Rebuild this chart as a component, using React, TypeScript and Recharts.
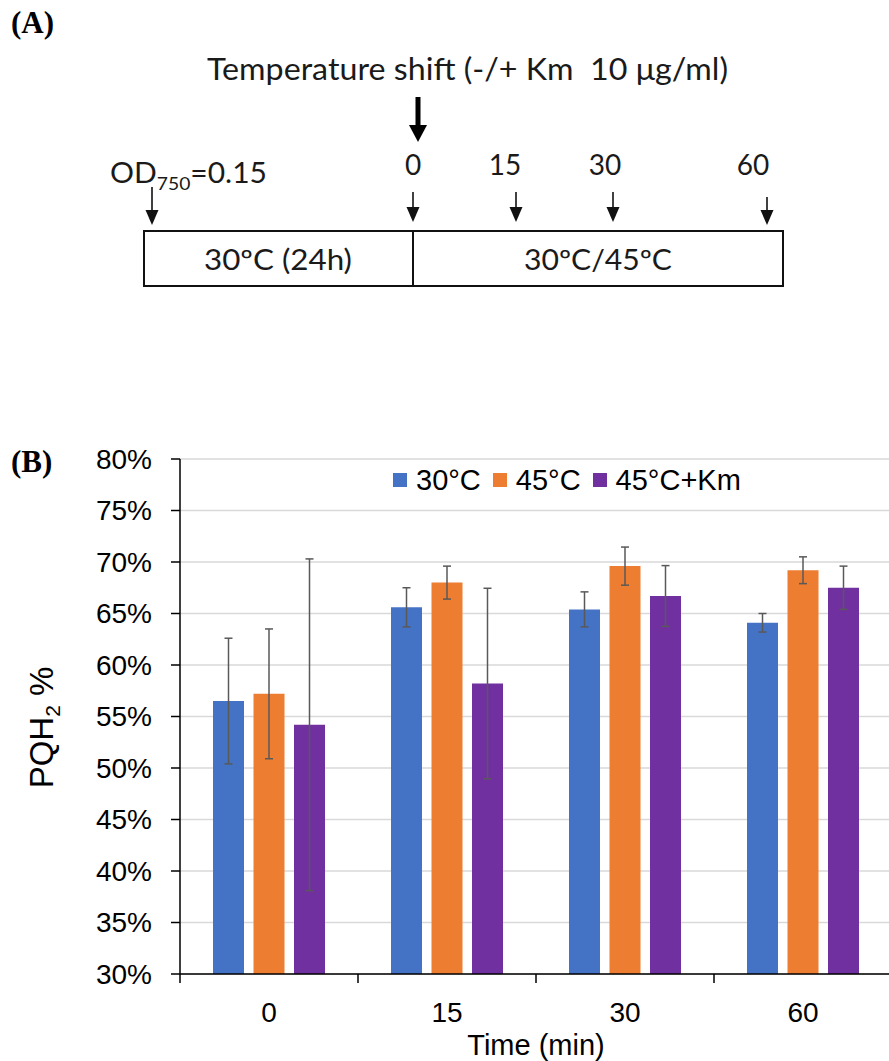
import { Bar, BarChart, CartesianGrid, ErrorBar, Legend, XAxis, YAxis } from "recharts";

const times = ["0", "15", "30", "60"];
const pqh30 = [56.5, 65.6, 65.4, 64.1];
const pqh30Err = [6.1, 1.9, 1.7, 0.9];
const pqh45 = [57.2, 68.0, 69.6, 69.2];
const pqh45Err = [6.3, 1.6, 1.85, 1.3];
const pqh45Km = [54.2, 58.2, 66.7, 67.5];
const pqh45KmErr = [16.1, 9.25, 2.95, 2.1];
const yTicks = [30, 35, 40, 45, 50, 55, 60, 65, 70, 75, 80];

const rows = times.map((t, i) => ({
  time: t,
  c30: pqh30[i],
  c30Err: pqh30Err[i],
  c45: pqh45[i],
  c45Err: pqh45Err[i],
  c45Km: pqh45Km[i],
  c45KmErr: pqh45KmErr[i],
}));

const ARIAL = "'Liberation Sans', Arial, sans-serif";
const SERIF = "'Liberation Serif', 'Times New Roman', serif";
const CALIBRI = "Lato, 'Open Sans', sans-serif";

const X_TICK_SIZE = 9;
const X_TICK_MARGIN = 19;

// category label in the middle, small tick marks on the band edges (Excel style)
function TimeTick(props: any) {
  const { x, y, payload, index, visibleTicksCount, width } = props;
  const half = payload.offset ?? width / visibleTicksCount / 2;
  const axisY = y - X_TICK_SIZE - X_TICK_MARGIN;
  const last = index === visibleTicksCount - 1;
  return (
    <g>
      <line x1={x - half} x2={x - half} y1={axisY} y2={axisY + X_TICK_SIZE} stroke="#000" strokeWidth={1.5} />
      {last && (
        <line x1={x + half} x2={x + half} y1={axisY} y2={axisY + X_TICK_SIZE} stroke="#000" strokeWidth={1.5} />
      )}
      <text x={x} y={y} dy="0.71em" textAnchor="middle" fontSize={28} fontFamily={ARIAL} fill="#000">
        {payload.value}
      </text>
    </g>
  );
}

function PqhLabel(props: any) {
  const vb = props.viewBox;
  const cx = vb.x - 47;
  const cy = vb.y + vb.height / 2 + 11;
  return (
    <text
      x={cx}
      y={cy}
      transform={`rotate(-90, ${cx}, ${cy})`}
      textAnchor="middle"
      fontSize={33}
      fontFamily={ARIAL}
      fill="#000"
    >
      PQH<tspan fontSize={21} dy={7}>2</tspan>
      <tspan dy={-7}> %</tspan>
    </text>
  );
}

function SeriesLegend({ payload }: any) {
  return (
    <div style={{ display: "flex", alignItems: "center", height: 30, fontFamily: ARIAL, fontSize: 29, color: "#000" }}>
      {(payload || []).map((p: any) => (
        <div key={p.value} style={{ display: "flex", alignItems: "center", marginRight: 12 }}>
          <span style={{ display: "inline-block", width: 14, height: 14, background: p.color, marginRight: 9 }} />
          <span style={{ lineHeight: "30px", whiteSpace: "nowrap" }}>{p.value}</span>
        </div>
      ))}
    </div>
  );
}

function Arrow({ x, y1, y2 }: { x: number; y1: number; y2: number }) {
  return (
    <g>
      <line x1={x} x2={x} y1={y1} y2={y2 - 12} stroke="#111" strokeWidth={1.6} />
      <polygon points={`${x - 6.5},${y2 - 15} ${x + 6.5},${y2 - 15} ${x},${y2}`} fill="#111" />
    </g>
  );
}

function Timeline() {
  const labelX = [413, 505, 605, 753];
  const arrows = [
    { x: 152, y1: 187, y2: 225 },
    { x: 413, y1: 192, y2: 222 },
    { x: 516, y1: 192, y2: 222 },
    { x: 613, y1: 192, y2: 222 },
    { x: 767, y1: 197, y2: 225 },
  ];
  return (
    <svg width={889} height={1061} style={{ position: "absolute", left: 0, top: 0, pointerEvents: "none" }}>
      <text x={11} y={33} fontFamily={SERIF} fontWeight="bold" fontSize={31} fill="#000">
        (A)
      </text>
      <text x={11} y={472} fontFamily={SERIF} fontWeight="bold" fontSize={31} fill="#000">
        (B)
      </text>

      <text
        x={207}
        y={80}
        fontFamily={CALIBRI}
        fontSize={30}
        fill="#1a1a1a"
        textLength={521}
        lengthAdjust="spacingAndGlyphs"
        style={{ whiteSpace: "pre" }}
      >
        Temperature shift (-/+ Km  10 μg/ml)
      </text>
      <rect x={415.5} y={97} width={5} height={29} fill="#000" />
      <polygon points="409,125 427,125 418,142" fill="#000" />

      <text x={110} y={183} fontFamily={CALIBRI} fontSize={28} fill="#1a1a1a" textLength={157} lengthAdjust="spacingAndGlyphs">
        OD<tspan fontSize={18} dy={7}>750</tspan>
        <tspan dy={-7}>=0.15</tspan>
      </text>
      {times.map((t, i) => (
        <text key={t} x={labelX[i]} y={175} textAnchor="middle" fontFamily={CALIBRI} fontSize={28} fill="#1a1a1a">
          {t}
        </text>
      ))}
      {arrows.map((a) => (
        <Arrow key={a.x} {...a} />
      ))}

      <rect x={144} y={231} width={639} height={55} fill="none" stroke="#111" strokeWidth={2} />
      <line x1={413} x2={413} y1={231} y2={286} stroke="#111" strokeWidth={2} />
      <text x={278} y={270} textAnchor="middle" fontFamily={CALIBRI} fontSize={28} fill="#1a1a1a" textLength={148} lengthAdjust="spacingAndGlyphs">
        30ºC (24h)
      </text>
      <text x={598} y={270} textAnchor="middle" fontFamily={CALIBRI} fontSize={28} fill="#1a1a1a" textLength={148} lengthAdjust="spacingAndGlyphs">
        30ºC/45ºC
      </text>
    </svg>
  );
}

export default function App() {
  return (
    <div style={{ position: "absolute", left: 0, top: 0, width: 889, height: 1061, overflow: "hidden", background: "#fff" }}>
      <div style={{ position: "absolute", left: 0, top: 440 }}>
        <BarChart
          width={900}
          height={621}
          data={rows}
          margin={{ top: 19, right: 8, bottom: 0, left: 100 }}
          barSize={31}
          barGap={9.5}
        >
          <CartesianGrid vertical={false} stroke="#d9d9d9" strokeWidth={1.5} />
          <XAxis
            dataKey="time"
            height={87}
            tickLine={false}
            tickSize={X_TICK_SIZE}
            tickMargin={X_TICK_MARGIN}
            axisLine={{ stroke: "#000", strokeWidth: 1.5 }}
            tick={<TimeTick />}
            interval={0}
            label={{ value: "Time (min)", position: "insideBottom", offset: 6, fontSize: 29, fontFamily: ARIAL, fill: "#000" }}
          />
          <YAxis
            width={80}
            domain={[30, 80]}
            ticks={yTicks}
            interval={0}
            tickFormatter={(v: number) => `${v}%`}
            tickSize={9}
            tickMargin={19}
            tickLine={{ stroke: "#000", strokeWidth: 1.5 }}
            axisLine={{ stroke: "#000", strokeWidth: 1.5 }}
            tick={{ fontSize: 28, fontFamily: ARIAL, fill: "#000" }}
            label={{ content: (p: any) => <PqhLabel {...p} /> }}
          />
          <Legend
            layout="horizontal"
            verticalAlign="middle"
            align="center"
            content={<SeriesLegend />}
            wrapperStyle={{ top: 25, left: 393, width: "auto" }}
          />
          <Bar dataKey="c30" name="30°C" fill="#4472c4" isAnimationActive={false}>
            <ErrorBar dataKey="c30Err" width={4} stroke="#595959" strokeWidth={1.5} />
          </Bar>
          <Bar dataKey="c45" name="45°C" fill="#ed7d31" isAnimationActive={false}>
            <ErrorBar dataKey="c45Err" width={4} stroke="#595959" strokeWidth={1.5} />
          </Bar>
          <Bar dataKey="c45Km" name="45°C+Km" fill="#7030a0" isAnimationActive={false}>
            <ErrorBar dataKey="c45KmErr" width={4} stroke="#595959" strokeWidth={1.5} />
          </Bar>
        </BarChart>
      </div>
      <Timeline />
    </div>
  );
}
